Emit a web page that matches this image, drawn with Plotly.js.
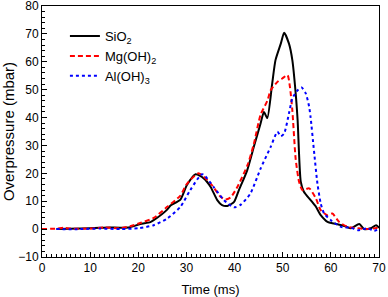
<!DOCTYPE html>
<html>
<head>
<meta charset="utf-8">
<script src="https://cdn.plot.ly/plotly-3.0.1.min.js"></script>
<style>html,body{margin:0;padding:0;background:#fff}#chart{width:388px;height:297px}</style>
</head>
<body>
<div id="chart"></div>
<script>
// Time (ms) and overpressure (mbar)
var sio2_t = [3, 8, 12, 14, 16.25, 18.3, 20.4, 22.5, 23.2, 26, 26.7, 28.75, 30.1, 31.9, 33.6, 35, 36.4, 37.4, 38.5, 39.9, 40.9, 42.6, 44, 45.4, 46.1, 46.8, 47.8, 48.5, 49.6, 50.3, 51.3, 52, 52.7, 53.1, 53.75, 54.4, 55.8, 56.9, 57.9, 59.3, 60.7, 62.8, 64.2, 65.9, 66.9, 68.3, 69.4, 70];
var sio2_v = [0, 0.2, 0.5, 0.6, 0.5, 0.7, 1.8, 2.5, 3.2, 7, 8.5, 10.6, 15.8, 19.7, 18.2, 15.2, 10.4, 8.6, 8.3, 9.8, 14, 21, 29.5, 37.9, 42, 39.8, 52, 60.6, 66.5, 70.4, 66.5, 60.6, 48.6, 39, 17, 13.4, 10.4, 8, 5, 2.6, 2, 1.1, 0.3, 1.8, 0, 0.3, 1.4, 0.5];

var mg_t = [0, 3, 4.5, 6, 10, 13, 16, 18.3, 20.4, 23.2, 26, 28.75, 30, 32.5, 35, 37.1, 38.1, 39.2, 40.6, 42.7, 44, 45.4, 46.8, 47.5, 48.9, 49.9, 51, 51.5, 52, 52.7, 53.4, 54.1, 55.5, 56.9, 57.9, 59.3, 60.3, 61.7, 63.5, 65.6, 67.6, 69.7];
var mg_v = [0, 0.2, 0.5, 0.2, 0.2, 0.6, 0.3, 1, 2.2, 4, 8, 12, 16, 20, 16.4, 11.6, 10.6, 11.4, 15.2, 23, 30.5, 41, 46, 49.8, 52.8, 54, 55.2, 51, 42.6, 25, 17, 14, 14.6, 11, 6.8, 5, 5.6, 2.6, 0.8, 0.3, 0, 0.5];

var al_t = [3, 8, 12, 16.25, 20, 23.2, 26, 28.75, 30.8, 33.3, 35.7, 37.8, 39.9, 41.3, 43.3, 45.4, 47.5, 48.9, 49.6, 50.3, 51.3, 52, 53.1, 53.9, 54.8, 55.5, 55.8, 56.5, 57.2, 57.9, 58.6, 60, 62.1, 64.2, 65.6, 67.6, 69, 70];
var al_v = [0, 0, 0.2, 0, 0.3, 1.4, 3.8, 8, 14, 19.7, 15, 10.4, 7.8, 8.8, 12.8, 21.7, 29.5, 34.9, 33.3, 34.3, 41.5, 46.8, 49.8, 50.8, 48.6, 43.8, 40, 28, 16.5, 9.2, 5.6, 3.2, 0.8, 0.5, -0.4, 0.3, -0.6, 0];

var names = ['SiO<sub>2</sub>', 'Mg(OH)<sub>2</sub>', 'Al(OH)<sub>3</sub>'];

var traces = [
  {x: sio2_t, y: sio2_v, name: names[0], mode: 'lines', line: {color: '#000000', width: 2, shape: 'spline', smoothing: 0.6}},
  {x: mg_t, y: mg_v, name: names[1], mode: 'lines', line: {color: '#ff0000', width: 2, dash: '5px,3px', shape: 'spline', smoothing: 0.6}},
  {x: al_t, y: al_v, name: names[2], mode: 'lines', line: {color: '#0000ff', width: 2, dash: 'dot', shape: 'spline', smoothing: 0.6}}
];

var fam = 'Liberation Sans, Arial, sans-serif';
var axisCommon = {
  showline: true, linecolor: '#000', linewidth: 1, mirror: true,
  ticks: 'inside', ticklen: 5, tickwidth: 1, tickcolor: '#000',
  showgrid: false, zeroline: false, ticklabeloverflow: 'allow',
  tickfont: {family: fam, size: 12, color: '#000'}
};

var layout = {
  width: 388, height: 297,
  margin: {l: 42, r: 9, t: 6, b: 40},
  paper_bgcolor: '#fff', plot_bgcolor: '#fff',
  showlegend: true,
  legend: {x: 0.068, y: 0.94, xanchor: 'left', yanchor: 'top', bgcolor: 'rgba(0,0,0,0)',
           font: {family: fam, size: 13, color: '#000'}, tracegroupgap: 0},
  xaxis: Object.assign({}, axisCommon, {
    range: [0, 70.001], dtick: 10, tick0: 0,
    minor: {dtick: 1, ticks: 'inside', ticklen: 3, tickcolor: '#000', showgrid: false},
    title: {text: 'Time (ms)', font: {family: fam, size: 13, color: '#000'}, standoff: 11}
  }),
  yaxis: Object.assign({}, axisCommon, {
    range: [-10, 80.001], dtick: 10, tick0: 0,
    minor: {dtick: 2, ticks: 'inside', ticklen: 3, tickcolor: '#000', showgrid: false},
    title: {text: 'Overpressure (mbar)', font: {family: fam, size: 15, color: '#000'}, standoff: 4}
  })
};

Plotly.newPlot('chart', traces, layout, {staticPlot: true, displayModeBar: false});
</script>
</body>
</html>
